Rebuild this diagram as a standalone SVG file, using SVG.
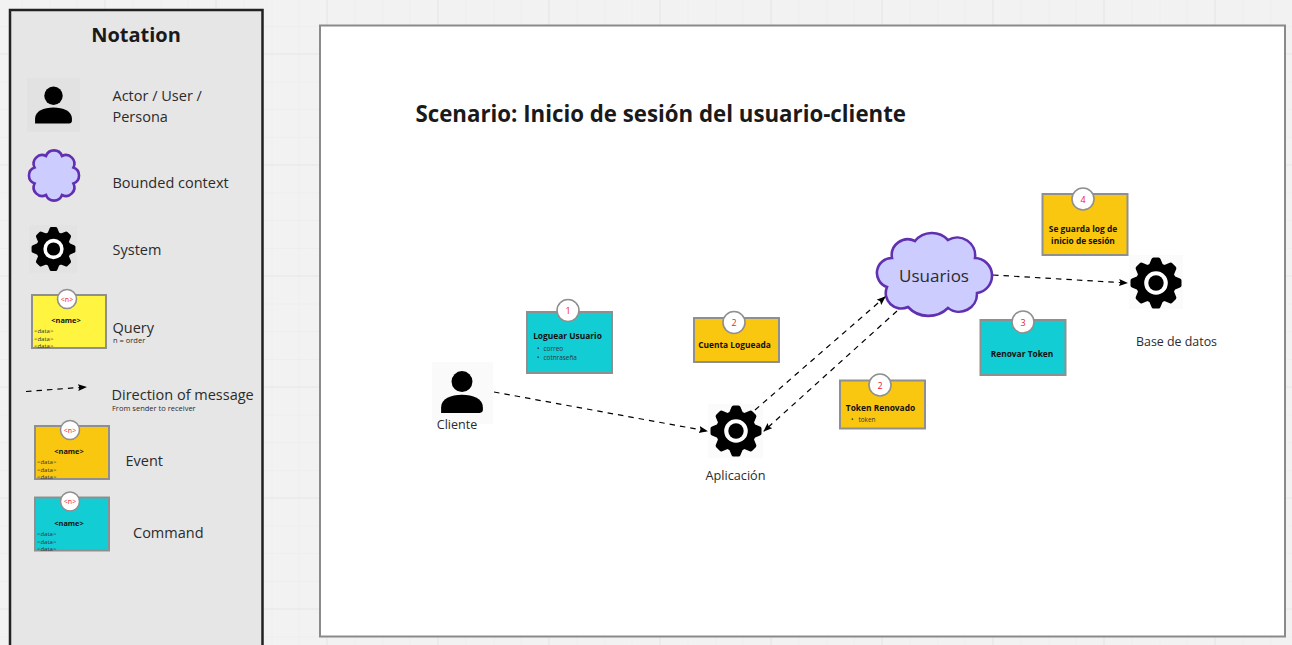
<svg xmlns="http://www.w3.org/2000/svg" width="1292" height="645" viewBox="0 0 1292 645">
<style>
text{font-family:"Open Sans","Noto Sans",sans-serif;fill:#2b2b2b}
.l{font-size:14.5px}
.conn{fill:none;stroke:#000;stroke-width:1.2;stroke-dasharray:5.5 5;marker-end:url(#ah)}
.card{stroke:#8f8f8f;stroke-width:2}
.badge{fill:#fff;stroke:#8f8f8f;stroke-width:1.6}
.num{font-size:9px;fill:#f0202e;text-anchor:middle}
.numS{font-size:7px;fill:#f0202e;text-anchor:middle}
.t{font-size:8.4px;font-weight:700;text-anchor:middle;fill:#111}
.s{font-size:6.4px;fill:#333}
.cloud{fill:#ccccff;stroke:#6030b0;stroke-width:2.6}
.minor{stroke:#eeeeee;stroke-width:1;fill:none}
.major{stroke:#e6e6e6;stroke-width:1.2;fill:none}
.mini{font-size:6px;fill:#333}
.minin{font-size:7.4px;font-weight:700;text-anchor:middle;fill:#111}
</style>
<defs>
<marker id="ah" markerWidth="10" markerHeight="8" refX="8" refY="3.5" orient="auto" markerUnits="userSpaceOnUse"><path d="M0 0L9 3.5L0 7L1.5 3.5Z" fill="#000"/></marker>
<g id="person"><circle cx="0" cy="-9.500" r="9.500"/><path d="M-19 19V14C-19 6-10 2.500 0 2.500S19 6 19 14V16Q19 19 16 19Z"/></g>
<path id="tooth" d="M-7-18L-4.500-24Q-4-25.500-2.500-25.500H2.500Q4-25.500 4.500-24L7-18Z"/>
<g id="cog"><g fill="#000"><circle r="20"/><use href="#tooth"/><use href="#tooth" transform="rotate(45)"/><use href="#tooth" transform="rotate(90)"/><use href="#tooth" transform="rotate(135)"/><use href="#tooth" transform="rotate(180)"/><use href="#tooth" transform="rotate(225)"/><use href="#tooth" transform="rotate(270)"/><use href="#tooth" transform="rotate(315)"/></g><circle r="11.800" fill="#fff"/><circle r="7.700" fill="#000"/></g>
</defs>
<rect width="1292" height="645" fill="#f2f2f2"/>
<g>
<path class="minor" d="M0 26.500H1292M0 82H1292M0 109.500H1292M0 137.500H1292M0 193H1292M0 220.500H1292M0 248.500H1292M0 304H1292M0 331.500H1292M0 359.500H1292M0 415H1292M0 442.500H1292M0 470.500H1292M0 526H1292M0 553.500H1292M0 581.500H1292M0 637H1292"/>
<path class="minor" d="M22 0V645M50 0V645M77 0V645M133 0V645M161 0V645M188 0V645M244 0V645M272 0V645M299 0V645M355 0V645M383 0V645M410 0V645M466 0V645M494 0V645M521 0V645M577 0V645M605 0V645M632 0V645M688 0V645M716 0V645M743 0V645M799 0V645M827 0V645M854 0V645M910 0V645M938 0V645M965 0V645M1021 0V645M1049 0V645M1076 0V645M1132 0V645M1160 0V645M1187 0V645M1243 0V645M1271 0V645"/>
<path class="major" d="M0 54H1292M0 165H1292M0 276H1292M0 387H1292M0 498H1292M0 609H1292M105 0V645M216 0V645M327 0V645M438 0V645M549 0V645M660 0V645M771 0V645M882 0V645M993 0V645M1104 0V645M1215 0V645"/>
</g>
<g id="notation-panel"><rect x="10" y="10" width="252.500" height="650" fill="#e6e6e6" stroke="#222" stroke-width="2.500"/>
<text x="136" y="42" font-size="20" font-weight="700" text-anchor="middle" style="fill:#1a1a1a">Notation</text></g>
<g id="legend-actor"><rect x="27" y="78" width="53" height="54" fill="#e2e2e2"/><use href="#person" transform="translate(53.500,105) scale(.97)"/><text class="l" x="112.500" y="101">Actor / User /</text><text class="l" x="112.500" y="122">Persona</text></g>
<g id="legend-bounded-context"><path class="cloud" d="M46 156A8.500 8.500 0 0 1 62 156A8.500 8.500 0 0 1 73.400 167.500A8.500 8.500 0 0 1 73.400 183.500A8.500 8.500 0 0 1 62 195A8.500 8.500 0 0 1 46 195A8.500 8.500 0 0 1 34.600 183.500A8.500 8.500 0 0 1 34.600 167.500A8.500 8.500 0 0 1 46 156Z"/><text class="l" x="112.500" y="187.500">Bounded context</text></g>
<g id="legend-system"><rect x="29" y="225" width="48" height="48" fill="#e3e3e3"/><use href="#cog" transform="translate(53.500,249) scale(.86)"/><text class="l" x="112.500" y="254.500">System</text></g>
<g id="legend-query"><rect class="card" x="32" y="295" width="74" height="53" fill="#fff540"/><circle class="badge" cx="67" cy="299" r="9.500"/><text class="numS" x="67" y="301.500">&lt;n&gt;</text><text class="minin" x="66" y="323">&lt;name&gt;</text><text class="mini" x="34" y="333">&lt;data&gt;</text><text class="mini" x="34" y="341">&lt;data&gt;</text><text class="mini" x="34" y="348">&lt;data&gt;</text><text class="l" x="112.500" y="333">Query</text><text x="113" y="343" font-size="7.500">n = order</text></g>
<g id="legend-direction"><path class="conn" d="M26 391.500L86 387"/><text class="l" x="111.500" y="399.500">Direction of message</text><text x="112" y="411" font-size="7.500">From sender to receiver</text></g>
<g id="legend-event"><rect class="card" x="35" y="426" width="74" height="53" fill="#fac710"/><circle class="badge" cx="70" cy="430" r="9.500"/><text class="numS" x="70" y="432.500">&lt;n&gt;</text><text class="minin" x="69" y="454">&lt;name&gt;</text><text class="mini" x="37" y="464">&lt;data&gt;</text><text class="mini" x="37" y="472">&lt;data&gt;</text><text class="mini" x="37" y="479">&lt;data&gt;</text><text class="l" x="125.500" y="465.500">Event</text></g>
<g id="legend-command"><rect class="card" x="35" y="497.500" width="74" height="53" fill="#12cdd4"/><circle class="badge" cx="70" cy="501.500" r="9.500"/><text class="numS" x="70" y="504">&lt;n&gt;</text><text class="minin" x="69" y="525.500">&lt;name&gt;</text><text class="mini" x="37" y="535.500">&lt;data&gt;</text><text class="mini" x="37" y="543.500">&lt;data&gt;</text><text class="mini" x="37" y="550.500">&lt;data&gt;</text><text class="l" x="133" y="537.500">Command</text></g>
<g id="scenario-frame"><rect x="320" y="25.500" width="965" height="611" fill="#fff" stroke="#8a8a8a" stroke-width="2"/><text x="415.500" y="122" font-size="22.250" font-weight="700" style="fill:#1a1a1a">Scenario: Inicio de sesión del usuario-cliente</text></g>
<g id="cliente"><rect x="432" y="362" width="61" height="62" fill="#fafafa"/><use href="#person" transform="translate(462,392) scale(1.1)"/><text x="457" y="428.500" text-anchor="middle" font-size="12.500">Cliente</text></g>
<g id="aplicacion"><rect x="708" y="404" width="55" height="54" fill="#fbfbfb"/><use href="#cog" transform="translate(736,431)"/><text x="735.500" y="480" text-anchor="middle" font-size="12.700">Aplicación</text></g>
<g id="usuarios"><path class="cloud" d="M915 241A22 22 0 0 1 948 240A18 18 0 0 1 975 258A17.600 17.600 0 0 1 977 293A18 18 0 0 1 948 308A28 28 0 0 1 908 307A15.500 15.500 0 0 1 887 287A14.900 14.900 0 0 1 892 258A16 16 0 0 1 915 241Z"/><text x="934" y="282" font-size="17" text-anchor="middle">Usuarios</text></g>
<g id="base-de-datos"><rect x="1129" y="255" width="54" height="54" fill="#fbfbfb"/><use href="#cog" transform="translate(1156,283)"/><text x="1176.500" y="346" text-anchor="middle" font-size="12.400">Base de datos</text></g>
<g id="loguear-usuario"><rect class="card" x="527" y="312" width="85" height="61" fill="#12cdd4"/><circle class="badge" cx="568" cy="310.500" r="11"/><text class="num" x="568" y="314">1</text><text class="t" x="567.500" y="339">Loguear Usuario</text><text class="s" x="537" y="350.500">•</text><text class="s" x="543.500" y="350.500">correo</text><text class="s" x="537" y="359.500">•</text><text class="s" x="543.500" y="359.500">cotnraseña</text></g>
<g id="cuenta-logueada"><rect class="card" x="694" y="318" width="85" height="44" fill="#fac710"/><circle class="badge" cx="734" cy="322.500" r="11"/><text class="num" x="734" y="326">2</text><text class="t" x="734.500" y="348">Cuenta Logueada</text></g>
<g id="token-renovado"><rect class="card" x="840" y="380.500" width="85" height="48" fill="#fac710"/><circle class="badge" cx="880" cy="385" r="11"/><text class="num" x="880" y="388.500">2</text><text class="t" x="880.500" y="411">Token Renovado</text><text class="s" x="851" y="421.500">•</text><text class="s" x="858.500" y="421.500">token</text></g>
<g id="renovar-token"><rect class="card" x="980.500" y="320" width="85" height="55" fill="#12cdd4"/><circle class="badge" cx="1023" cy="322" r="11"/><text class="num" x="1023" y="325.500">3</text><text class="t" x="1022" y="357">Renovar Token</text></g>
<g id="log-inicio"><rect class="card" x="1042.500" y="194" width="85" height="61" fill="#fac710"/><circle class="badge" cx="1083" cy="199" r="11"/><text class="num" x="1083" y="202.500">4</text><text class="t" x="1083" y="232">Se guarda log de</text><text class="t" x="1083" y="243.500">inicio de sesión</text></g>
<g id="connectors">
<path class="conn" d="M494 392L707 431"/>
<path class="conn" d="M755 410L885 297"/>
<path class="conn" d="M897 311L764 431"/>
<path class="conn" d="M993 275L1127 283"/>
</g>
</svg>
